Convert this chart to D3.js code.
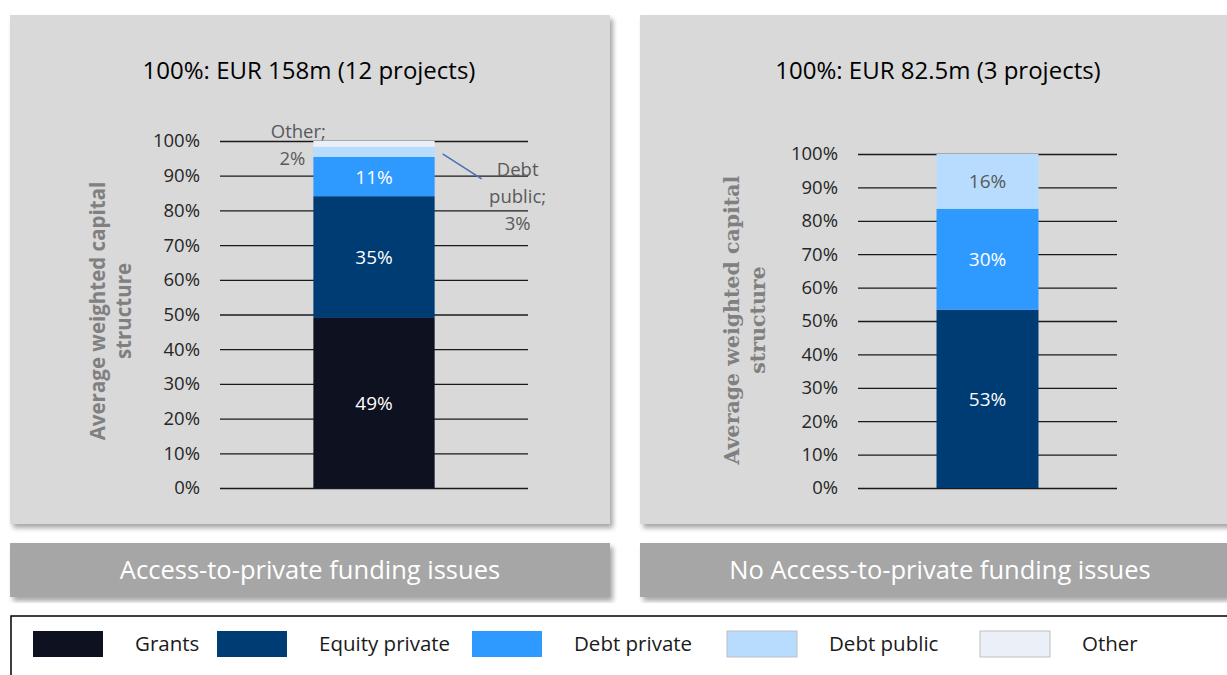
<!DOCTYPE html>
<html>
<head>
<meta charset="utf-8">
<script src="https://cdn.jsdelivr.net/npm/d3@7"></script>
<style>
  body { margin: 0; background: #fff; }
  svg { display: block; font-family: "Open Sans", "Noto Sans", sans-serif; }
</style>
</head>
<body>
<svg width="1227" height="675"></svg>
<script>
// series, bottom to top
var keys = ["Grants", "Equity private", "Debt private", "Debt public", "Other"];
var colors = ["#0d1120", "#003c74", "#2e9aff", "#b7dcfe", "#eaeff8"];

var groups = ["Access-to-private funding issues", "No Access-to-private funding issues"];
var titles = ["100%: EUR 158m (12 projects)", "100%: EUR 82.5m (3 projects)"];
var grants = [49.0, 0];
var equityPrivate = [35.1, 53.4];
var debtPrivate = [11.3, 30.2];
var debtPublic = [2.9, 16.4];
var other = [1.7, 0];
var yTicks = [0, 10, 20, 30, 40, 50, 60, 70, 80, 90, 100];
var yTitle = ["Average weighted capital", "structure"];

var data = groups.map(function(g, i) {
  return {group: g, "Grants": grants[i], "Equity private": equityPrivate[i],
    "Debt private": debtPrivate[i], "Debt public": debtPublic[i], "Other": other[i]};
});

var pct = function(v) { return Math.round(v) + "%"; };

var svg = d3.select("svg");
var z = d3.scaleOrdinal().domain(keys).range(colors);

var defs = svg.append("defs");
defs.append("filter").attr("id", "shadow").attr("x", "-5%").attr("y", "-5%").attr("width", "115%").attr("height", "115%")
  .append("feDropShadow").attr("dx", 3).attr("dy", 4).attr("stdDeviation", 2.5)
  .attr("flood-color", "#000").attr("flood-opacity", 0.35);

// panel layouts
var panels = [
  {box: [10, 15, 600, 509], btn: [10, 543, 600, 54], x0: 220, x1: 528, yTop: 141, titleX: 309,
   axTitleX: 105, axTitleY: 311, serif: false},
  {box: [640, 15, 600, 509], btn: [640, 543, 600, 54], x0: 858, x1: 1117, yTop: 154, titleX: 938,
   axTitleX: 739, axTitleY: 320, serif: true}
];
var yBottom = 488;

panels.forEach(function(p, i) {
  var d = data[i];
  var g = svg.append("g");

  g.append("rect")
    .attr("x", p.box[0]).attr("y", p.box[1]).attr("width", p.box[2]).attr("height", p.box[3])
    .attr("fill", "#d9d9d9").attr("filter", "url(#shadow)");

  g.append("text")
    .attr("x", p.titleX).attr("y", 79)
    .attr("text-anchor", "middle").attr("font-size", 24).attr("fill", "#000")
    .text(titles[i]);

  var x = d3.scaleBand().domain([d.group]).range([p.x0, p.x1])
    .paddingInner(0.435).paddingOuter(0.435);
  var y = d3.scaleLinear().domain([0, 100]).range([yBottom, p.yTop]);

  var axis = g.append("g")
    .attr("transform", "translate(" + p.x0 + ",0)")
    .call(d3.axisLeft(y).tickValues(yTicks).tickSize(-(p.x1 - p.x0)).tickPadding(20)
      .tickFormat(function(v) { return v + "%"; }));
  axis.select(".domain").remove();
  axis.selectAll(".tick line").attr("stroke", "#1a1a1a").attr("stroke-width", 1.3);
  axis.selectAll(".tick text").attr("font-size", 18.5).attr("fill", "#262626")
    .attr("font-family", "'Open Sans', 'Noto Sans', sans-serif");

  var stacked = d3.stack().keys(keys)([d]);
  g.append("g").selectAll("rect")
    .data(stacked.filter(function(s) { return s[0][1] - s[0][0] > 0; }))
    .enter().append("rect")
      .attr("x", x(d.group))
      .attr("width", x.bandwidth())
      .attr("y", function(s) { return y(s[0][1]); })
      .attr("height", function(s) { return y(s[0][0]) - y(s[0][1]); })
      .attr("fill", function(s) { return z(s.key); });

  // inside labels
  var cx = x(d.group) + x.bandwidth() / 2;
  g.append("g").selectAll("text")
    .data(stacked.filter(function(s) { return s[0][1] - s[0][0] >= 10; }))
    .enter().append("text")
      .attr("x", cx)
      .attr("y", function(s) { return y((s[0][0] + s[0][1]) / 2) + 7; })
      .attr("text-anchor", "middle").attr("font-size", 19)
      .attr("fill", function(s) { return s.key === "Debt public" ? "#595959" : "#fff"; })
      .text(function(s) { return pct(s[0][1] - s[0][0]); });

  // outside labels for thin slices
  stacked.filter(function(s) { var v = s[0][1] - s[0][0]; return v > 0 && v < 10; })
    .forEach(function(s) {
      var v = s[0][1] - s[0][0];
      var mid = y((s[0][0] + s[0][1]) / 2);
      var t;
      if (s.key === "Other") {
        t = g.append("text").attr("y", mid - 6)
          .attr("text-anchor", "middle").attr("font-size", 18.5).attr("fill", "#595959");
        t.append("tspan").attr("x", x(d.group) - 15).attr("dy", 0).text(s.key + ";");
        t.append("tspan").attr("x", x(d.group) - 21).attr("dy", 27).text(pct(v));
      } else {
        var bx = x(d.group) + x.bandwidth();
        g.append("line")
          .attr("x1", bx + 8).attr("y1", mid + 2).attr("x2", bx + 47).attr("y2", mid + 27)
          .attr("stroke", "#4a6fb5").attr("stroke-width", 1.5);
        var lx = bx + 83;
        t = g.append("text").attr("y", mid + 24)
          .attr("text-anchor", "middle").attr("font-size", 18.5).attr("fill", "#595959");
        s.key.split(" ").concat([pct(v)]).forEach(function(w, k, arr) {
          t.append("tspan").attr("x", lx).attr("dy", k ? 27 : 0)
            .text(w + (k === arr.length - 2 ? ";" : ""));
        });
      }
    });

  // axis title
  var at = g.append("text")
    .attr("transform", "translate(" + p.axTitleX + "," + p.axTitleY + ") rotate(-90)")
    .attr("text-anchor", "middle").attr("font-weight", "bold").attr("fill", "#808080")
    .attr("font-size", 20.5)
    .attr("font-family", p.serif ? "'DejaVu Serif', 'Liberation Serif', serif" : "'Open Sans', 'Noto Sans', sans-serif");
  yTitle.forEach(function(line, k) {
    at.append("tspan").attr("x", 0).attr("dy", k ? 26 : 0).text(line);
  });

  // group button
  g.append("rect")
    .attr("x", p.btn[0]).attr("y", p.btn[1]).attr("width", p.btn[2]).attr("height", p.btn[3])
    .attr("fill", "#a6a6a6").attr("filter", "url(#shadow)");
  g.append("text")
    .attr("x", p.btn[0] + 300).attr("y", p.btn[1] + 36)
    .attr("text-anchor", "middle").attr("font-size", 25.5).attr("fill", "#fff")
    .text(d.group);
});

// legend
var legend = svg.append("g");
legend.append("rect")
  .attr("x", 11).attr("y", 616).attr("width", 1230).attr("height", 70)
  .attr("fill", "#fff").attr("stroke", "#000").attr("stroke-width", 1.5);

var legendX = [33, 217, 472, 727, 980];
var item = legend.selectAll("g.item").data(keys).enter().append("g")
  .attr("class", "item")
  .attr("transform", function(k, j) { return "translate(" + legendX[j] + ",631)"; });
item.append("rect")
  .attr("width", 70).attr("height", 26)
  .attr("fill", function(k) { return z(k); })
  .attr("stroke", function(k, j) { return j >= 3 ? "#bfbfbf" : "none"; });
item.append("text")
  .attr("x", 102).attr("y", 20)
  .attr("font-size", 20.5).attr("fill", "#1a1a1a")
  .text(function(k) { return k; });
</script>
</body>
</html>
